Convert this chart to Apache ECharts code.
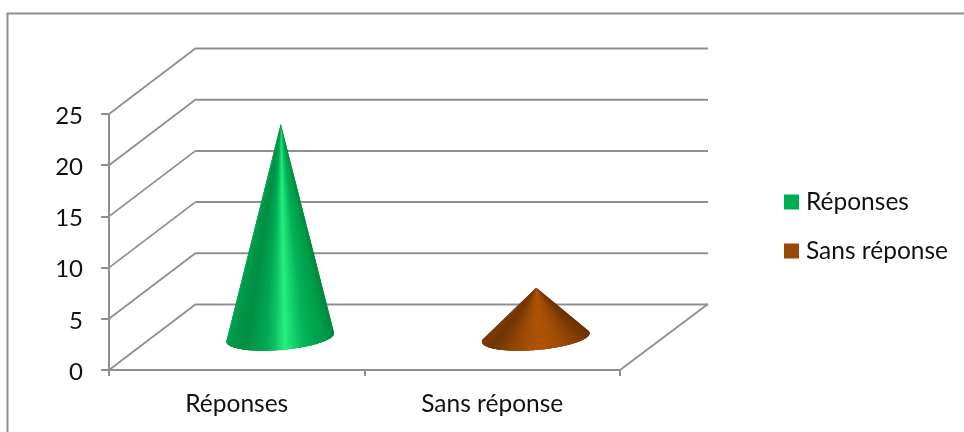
<!DOCTYPE html>
<html><head><meta charset="utf-8">
<style>html,body{margin:0;padding:0;background:#fff}#c{width:964px;height:432px}</style>
<script src="https://cdn.jsdelivr.net/npm/echarts@6/dist/echarts.min.js"></script>
</head><body><div id="c"></div>
<script>
const categories = ['Réponses', 'Sans réponse'];
const seriesNames = ['Réponses', 'Sans réponse'];
const seriesValues = [21, 5];
const yTicks = [0, 5, 10, 15, 20, 25];

const FONT = 'Lato';
const GRID_COLOR = '#8f8f8f';
const DEPTH = [87, -66];          // 3D wall offset
const RX = 54, RY = 12.5, ROT = -4.8 * Math.PI / 180;
const ramps = [
  ['#05a050','#009545','#008f45','#009c4c','#03a852','#10c464','#27ee7e','#14d06c','#05b45a','#00a850','#009e4a','#00883f'],
  ['#7a3a05','#703504','#7f3c04','#8e4404','#9c4b05','#a85005','#b05306','#aa5005','#a04c05','#924504','#803c04','#6c3303']
];

function wallItem(params, api) {
  const p = api.coord([0, api.value(0)]);
  const x0 = params.coordSys.x, x1 = x0 + params.coordSys.width, y = p[1];
  const style = { stroke: GRID_COLOR, lineWidth: 2, fill: null };
  const diag = { stroke: GRID_COLOR, lineWidth: 1.8, fill: null };
  const kids = [
    { type: 'line', shape: { x1: x0, y1: y, x2: x0 + DEPTH[0], y2: y + DEPTH[1] }, style: diag },
    { type: 'line', shape: { x1: x0 + DEPTH[0], y1: y + DEPTH[1] + 0.5, x2: x1 + DEPTH[0] + 1, y2: y + DEPTH[1] + 0.5 }, style }
  ];
  if (api.value(0) === 0) {
    kids.push({ type: 'line', shape: { x1: x1, y1: y, x2: x1 + DEPTH[0] + 1, y2: y + DEPTH[1] }, style: diag });
  }
  return { type: 'group', children: kids };
}

function coneItem(idx) {
  return function (params, api) {
    const tip = api.coord([api.value(0), api.value(1)]);
    const foot = api.coord([api.value(0), 0]);
    const cx = foot[0] + DEPTH[0] / 2, cy = foot[1] + DEPTH[1] / 2 + 0.5;
    const ax = tip[0] + DEPTH[0] / 2 + 0.5, ay = tip[1] + DEPTH[1] / 2 + 2;
    const c = Math.cos(ROT), s = Math.sin(ROT);
    const pt = t => [
      cx + RX * Math.cos(t) * c - RY * Math.sin(t) * s,
      cy + RX * Math.cos(t) * s + RY * Math.sin(t) * c
    ];
    // tangents from apex to the tilted base ellipse
    const dx = ax - cx, dy = ay - cy;
    const ux = (dx * c + dy * s) / RX, uy = (-dx * s + dy * c) / RY;
    const d = Math.hypot(ux, uy), base = Math.atan2(uy, ux), off = Math.acos(1 / d);
    const tStart = base + off, tEnd = base + 2 * Math.PI - off;
    const N = 90, pts = [];
    for (let i = 0; i <= N; i++) pts.push(pt(tStart + (tEnd - tStart) * i / N));
    const xs = pts.map(q => q[0]);
    const minX = Math.min.apply(null, xs), maxX = Math.max.apply(null, xs);
    const kids = [];
    // paint slices with overlap, so no seams show
    for (let i = 0; i < N; i++) {
      const mid = (pts[i][0] + pts[i + 1][0]) / 2;
      const col = echarts.color.lerp((mid - minX) / (maxX - minX), ramps[idx]);
      const next = pts[Math.min(i + 3, N)];
      kids.push({
        type: 'polygon',
        shape: { points: [[ax, ay], pts[i], pts[i + 1], next] },
        style: { fill: col }
      });
    }
    return { type: 'group', children: kids };
  };
}

const chart = echarts.init(document.getElementById('c'), null, { renderer: 'canvas' });
chart.setOption({
  animation: false,
  backgroundColor: '#fff',
  graphic: [{
    type: 'polyline', silent: true,
    shape: { points: [[7.5, 432], [7.5, 13.5], [964, 13.5]] },
    style: { stroke: '#8f8f8f', lineWidth: 2, fill: null }
  }],
  grid: { left: 109, right: 344, top: 114, bottom: 62, containLabel: false },
  legend: {
    orient: 'vertical', left: 779, top: 183,
    data: seriesNames,
    icon: 'rect', itemWidth: 15, itemHeight: 15, itemGap: 21,
    selectedMode: false,
    textStyle: { fontFamily: FONT, fontSize: 24.5, color: '#111', padding: [0, 0, 0, 2], lineHeight: 28 }
  },
  xAxis: {
    type: 'category', data: categories, boundaryGap: true,
    axisLine: { show: true, lineStyle: { color: GRID_COLOR, width: 2 } },
    axisTick: { show: true, alignWithLabel: false, length: 6, lineStyle: { color: GRID_COLOR, width: 2 } },
    axisLabel: { fontFamily: FONT, fontSize: 24.5, color: '#111', margin: 22 },
    splitLine: { show: false }
  },
  yAxis: {
    type: 'value', min: 0, max: 25, interval: 5,
    axisLine: { show: true, lineStyle: { color: GRID_COLOR, width: 2 } },
    axisTick: { show: true, length: 8, lineStyle: { color: GRID_COLOR, width: 2 } },
    axisLabel: { fontFamily: FONT, fontSize: 24, color: '#111', margin: 26, verticalAlign: 'top', lineHeight: 4 },
    splitLine: { show: false }
  },
  series: [
    { type: 'custom', name: 'walls', silent: true, z: 1, clip: false, coordinateSystem: 'cartesian2d',
      data: yTicks.map(v => [v]), encode: { y: 0 }, renderItem: wallItem },
    { type: 'custom', name: seriesNames[0], z: 3, clip: false, itemStyle: { color: '#00ad52' },
      data: [[0, seriesValues[0]]], encode: { x: 0, y: 1 }, renderItem: coneItem(0) },
    { type: 'custom', name: seriesNames[1], z: 3, clip: false, itemStyle: { color: '#984807' },
      data: [[1, seriesValues[1]]], encode: { x: 0, y: 1 }, renderItem: coneItem(1) }
  ]
});
</script></body></html>
